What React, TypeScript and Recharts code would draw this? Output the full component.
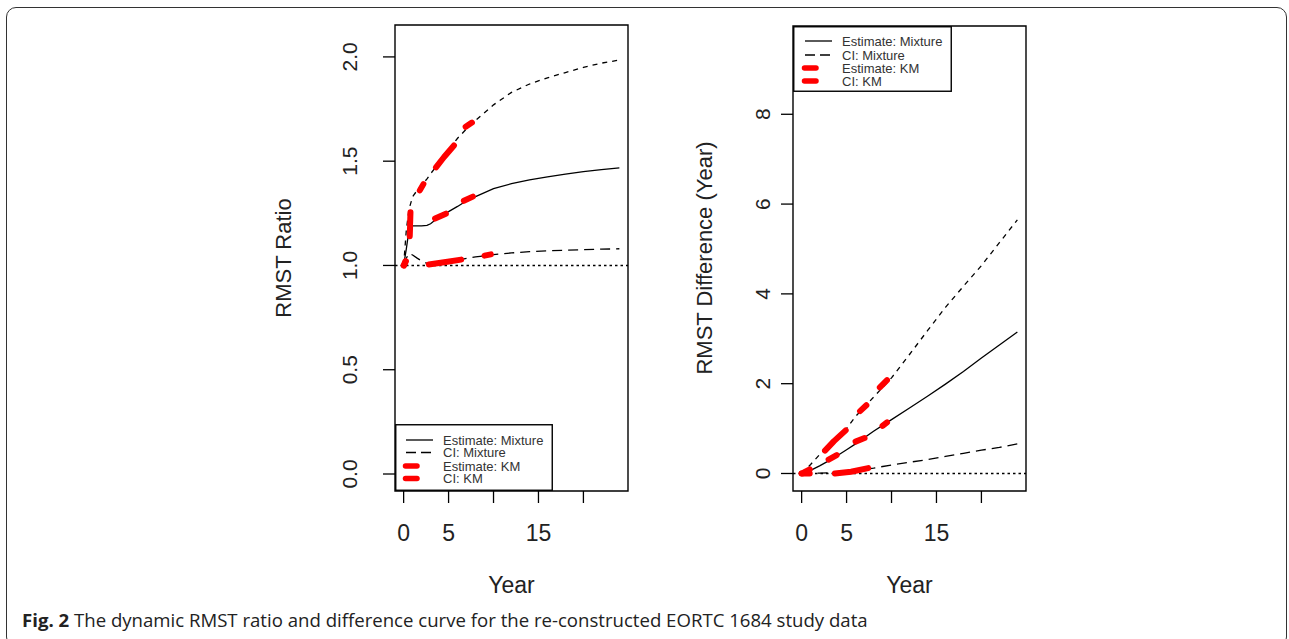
import React from "react";
import { ComposedChart, Line, XAxis, YAxis, ReferenceLine, ReferenceArea } from "recharts";

// ---- left panel: RMST ratio ----
const ratioTimes = [0, 0.3, 0.6, 1, 1.5, 2, 2.6, 3, 4, 5, 6, 7, 8, 10, 12, 14, 16, 18, 20, 22, 24];
const ratioEst = [1.0, 1.08, 1.17, 1.19, 1.19, 1.19, 1.192, 1.2, 1.235, 1.258, 1.283, 1.31, 1.33, 1.368, 1.392, 1.41, 1.425, 1.438, 1.45, 1.46, 1.468];
const ratioUpper = [1.0, 1.17, 1.27, 1.33, 1.36, 1.385, 1.415, 1.44, 1.495, 1.555, 1.61, 1.655, 1.695, 1.77, 1.83, 1.87, 1.9, 1.925, 1.95, 1.97, 1.985];
const ratioLower = [1.0, 1.035, 1.058, 1.05, 1.035, 1.022, 1.01, 1.007, 1.01, 1.018, 1.026, 1.034, 1.041, 1.052, 1.06, 1.066, 1.07, 1.073, 1.076, 1.078, 1.08];

// KM curves only show as thick red dashes, one [t, value] list per dash
const kmRatioEst = [
  [[0.05, 1.0], [0.25, 1.02]],
  [[0.68, 1.14], [0.72, 1.19]],
  [[3.5, 1.225], [4.7, 1.248]],
  [[6.7, 1.31], [7.7, 1.33]],
];
const kmRatioUpper = [
  [[0.72, 1.2], [0.76, 1.255]],
  [[1.8, 1.36], [2.2, 1.39]],
  [[3.6, 1.47], [4.5, 1.52], [5.6, 1.575]],
  [[6.9, 1.665], [7.6, 1.685]],
];
const kmRatioLower = [
  [[0.0, 1.0], [0.2, 1.02]],
  [[2.8, 1.005], [4.5, 1.015], [6.4, 1.028]],
  [[9.0, 1.047], [9.7, 1.053]],
];

// ---- right panel: RMST difference ----
const diffTimes = [0, 1, 2, 3, 4, 5, 6, 8, 10, 12, 14, 16, 18, 20, 22, 24];
const diffEst = [0, 0.07, 0.17, 0.28, 0.4, 0.53, 0.66, 0.94, 1.2, 1.46, 1.72, 1.99, 2.27, 2.57, 2.86, 3.15];
const diffUpper = [0, 0.2, 0.42, 0.63, 0.82, 1.0, 1.27, 1.7, 2.13, 2.65, 3.18, 3.7, 4.17, 4.63, 5.14, 5.65];
const diffLower = [0, 0.005, 0.01, 0.015, 0.02, 0.035, 0.06, 0.12, 0.19, 0.25, 0.31, 0.38, 0.45, 0.52, 0.58, 0.66];

const kmDiffEst = [
  [[0.0, 0.0], [0.8, 0.03]],
  [[3.0, 0.31], [3.9, 0.41]],
  [[6.0, 0.71], [7.0, 0.79]],
  [[9.0, 1.06], [9.5, 1.14]],
];
const kmDiffUpper = [
  [[0.3, 0.03], [0.9, 0.09]],
  [[2.6, 0.51], [3.6, 0.72], [4.9, 0.96]],
  [[6.5, 1.39], [7.2, 1.52]],
  [[8.7, 1.92], [9.5, 2.08]],
];
const kmDiffLower = [
  [[0.0, 0.0], [0.9, 0.0]],
  [[3.7, 0.0], [5.5, 0.04], [7.4, 0.12]],
];

const xTicks = [0, 5, 10, 15, 20];
const xTickLabels = [0, 5, 15];
const ratioTicks = [0, 0.5, 1, 1.5, 2];
const diffTicks = [0, 2, 4, 6, 8];
const legendLabels = ["Estimate: Mixture", "CI: Mixture", "Estimate: KM", "CI: KM"];

const FONT = "'Liberation Sans', Arial, sans-serif";

const zip = (ts: number[], vs: number[]) => ts.map((t, i) => ({ t, v: vs[i] }));
const segs = (list: number[][][]) => {
  const out: { t: number; v: number | null }[] = [];
  list.forEach((s) => {
    s.forEach(([t, v]) => out.push({ t, v }));
    out.push({ t: s[s.length - 1][0] + 0.001, v: null });
  });
  return out;
};

const YTick = ({ x, y, payload, dx, digits }: any) => {
  const bx = x + dx;
  return (
    <text x={bx} y={y} transform={`rotate(-90 ${bx} ${y})`} textAnchor="middle" fontSize={21} fill="#222" fontFamily={FONT}>
      {payload.value.toFixed(digits)}
    </text>
  );
};

const XTick = ({ x, y, payload }: any) =>
  xTickLabels.includes(payload.value) ? (
    <text x={x} y={y + 38} textAnchor="middle" fontSize={23} fill="#222" fontFamily={FONT}>
      {payload.value}
    </text>
  ) : null;

const XTitle = ({ cx }: any) => (
  <text x={cx} y={593} textAnchor="middle" fontSize={23} fill="#222" fontFamily={FONT}>Year</text>
);

const YTitle = ({ bx, cy, text }: any) => (
  <text x={bx} y={cy} transform={`rotate(-90 ${bx} ${cy})`} textAnchor="middle" fontSize={22} fill="#222" fontFamily={FONT}>
    {text}
  </text>
);

function PlotLegend({ left, top, width, height, rows, lineX, textX }: any) {
  return (
    <svg style={{ position: "absolute", left, top }} width={width} height={height}>
      <rect x={0.75} y={0.75} width={width - 1.5} height={height - 1.5} fill="#fff" stroke="#000" strokeWidth={1.4} />
      {legendLabels.map((lab, i) => {
        const y = rows[i];
        let mark;
        if (i === 0) mark = <line x1={lineX} x2={lineX + 27} y1={y} y2={y} stroke="#000" strokeWidth={1.3} />;
        else if (i === 1) mark = <line x1={lineX} x2={lineX + 27} y1={y} y2={y} stroke="#000" strokeWidth={1.3} strokeDasharray="10 5" />;
        else mark = <line x1={lineX - 0.5} x2={lineX + 11} y1={y} y2={y} stroke="#ff0000" strokeWidth={5.5} strokeLinecap="round" />;
        return (
          <g key={lab}>
            {mark}
            <text x={textX} y={y} dominantBaseline="central" fontSize={13} fill="#333" fontFamily={FONT}>{lab}</text>
          </g>
        );
      })}
    </svg>
  );
}

const xDomain: [number, number] = [-0.96, 24.96];
const ratioDomain: [number, number] = [-0.0815, 2.153];
const diffDomain: [number, number] = [-0.39, 9.966];

function Panel(props: any) {
  const { left, width, margin, yDomain, yTicks, digits, tickDx, ref1, est, upper, lower, kmEst, kmUpper, kmLower, title, titleBx, xTitleCx } = props;
  const km = { stroke: "#ff0000", strokeWidth: 6, strokeLinecap: "round" as const, strokeLinejoin: "round" as const, dot: false, isAnimationActive: false };
  return (
    <div style={{ position: "absolute", left, top: 0 }}>
      <ComposedChart width={width} height={639} margin={margin}>
        <XAxis
          type="number"
          dataKey="t"
          domain={xDomain}
          ticks={xTicks}
          interval={0}
          height={110}
          axisLine={false}
          tickSize={12}
          tickMargin={0}
          tickLine={{ stroke: "#000", strokeWidth: 1.3 }}
          tick={<XTick />}
          label={<XTitle cx={xTitleCx} />}
          allowDataOverflow
        />
        <YAxis
          type="number"
          domain={yDomain}
          ticks={yTicks}
          interval={0}
          width={props.yWidth}
          axisLine={false}
          tickSize={12}
          tickMargin={0}
          tickLine={{ stroke: "#000", strokeWidth: 1.3 }}
          tick={<YTick dx={tickDx} digits={digits} />}
          label={<YTitle bx={titleBx} cy={258} text={title} />}
          allowDataOverflow
        />
        <ReferenceArea x1={xDomain[0]} x2={xDomain[1]} y1={yDomain[0]} y2={yDomain[1]} fill="none" stroke="#000" strokeWidth={1.4} />
        <ReferenceLine y={ref1} stroke="#000" strokeWidth={1.4} strokeDasharray="2.5 3" />
        <Line data={lower} dataKey="v" stroke="#000" strokeWidth={1.3} strokeDasharray="10 6" dot={false} isAnimationActive={false} />
        <Line data={upper} dataKey="v" stroke="#000" strokeWidth={1.3} strokeDasharray="5 5" dot={false} isAnimationActive={false} />
        <Line data={est} dataKey="v" stroke="#000" strokeWidth={1.3} dot={false} isAnimationActive={false} />
        <Line data={kmLower} dataKey="v" {...km} />
        <Line data={kmUpper} dataKey="v" {...km} />
        <Line data={kmEst} dataKey="v" {...km} />
      </ComposedChart>
    </div>
  );
}

export default function App() {
  return (
    <div style={{ position: "absolute", left: 0, top: 0, width: 1289, height: 639, background: "#fff", overflow: "hidden" }}>
      <div style={{ position: "absolute", left: 6, top: 7, width: 1281, height: 640, border: "1.6px solid #333", borderRadius: 10, boxSizing: "border-box" }} />
      <Panel
        left={0}
        width={700}
        margin={{ top: 25, right: 72, bottom: 38, left: 255 }}
        yWidth={140}
        yDomain={ratioDomain}
        yTicks={ratioTicks}
        digits={1}
        tickDx={-25.5}
        ref1={1}
        est={zip(ratioTimes, ratioEst)}
        upper={zip(ratioTimes, ratioUpper)}
        lower={zip(ratioTimes, ratioLower)}
        kmEst={segs(kmRatioEst)}
        kmUpper={segs(kmRatioUpper)}
        kmLower={segs(kmRatioLower)}
        title="RMST Ratio"
        titleBx={291}
        xTitleCx={511.5}
      />
      <Panel
        left={650}
        width={639}
        margin={{ top: 26, right: 263, bottom: 38, left: 23 }}
        yWidth={120}
        yDomain={diffDomain}
        yTicks={diffTicks}
        digits={0}
        tickDx={-10.5}
        ref1={0}
        est={zip(diffTimes, diffEst)}
        upper={zip(diffTimes, diffUpper)}
        lower={zip(diffTimes, diffLower)}
        kmEst={segs(kmDiffEst)}
        kmUpper={segs(kmDiffUpper)}
        kmLower={segs(kmDiffLower)}
        title="RMST Difference (Year)"
        titleBx={712 - 650}
        xTitleCx={909.5 - 650}
      />
      <PlotLegend left={395} top={424} width={158} height={67} rows={[16, 28.5, 42, 54.5]} lineX={11} textX={48} />
      <PlotLegend left={793} top={26} width={159} height={66} rows={[15, 29, 42, 55]} lineX={12} textX={49} />
      <div style={{ position: "absolute", left: 22, top: 610, fontFamily: "'Open Sans', sans-serif", fontSize: 18.6, lineHeight: "19px", color: "#222", whiteSpace: "nowrap" }}>
        <b>Fig. 2</b> The dynamic RMST ratio and difference curve for the re-constructed EORTC 1684 study data
      </div>
    </div>
  );
}
